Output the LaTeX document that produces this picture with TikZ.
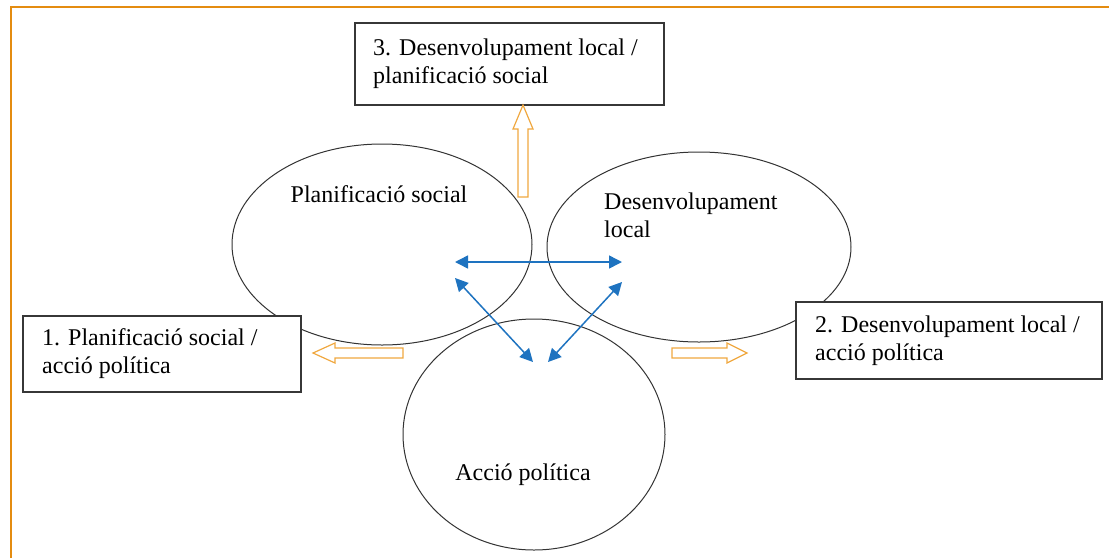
\documentclass[tikz,border=0pt]{standalone}
\usepackage{fontspec}
\setmainfont{Liberation Serif}
\usetikzlibrary{arrows.meta,shapes.geometric}
\definecolor{frameor}{RGB}{228,140,16}
\definecolor{arrowor}{RGB}{240,168,64}
\definecolor{blu}{RGB}{30,115,192}
\definecolor{edge}{RGB}{55,55,55}
\begin{document}
\begin{tikzpicture}[x=1pt,y=-1pt,
  txt/.style={font=\fontsize{24}{28}\selectfont, inner sep=0pt, align=left},
  boxnode/.style={draw=edge, fill=white, line width=1.5pt, inner sep=0pt, anchor=north west},
  oval/.style={draw=black!80, line width=1pt, ellipse, inner sep=0pt},
  link/.style={blu, line width=1.5pt, {Triangle[length=13pt,width=13pt]}-{Triangle[length=13pt,width=13pt]}},
  blockarrow/.style={draw=arrowor, fill=white, line width=1.2pt, line join=miter}]
\useasboundingbox (0,0) rectangle (1109,558);
\draw[frameor, line width=2.5pt] (11,558) -- (11,7) -- (1109,7);

% ellipses
\node[oval, minimum width=300pt, minimum height=201pt] (ps) at (382,244.5) {};
\node[oval, minimum width=304pt, minimum height=190pt] (dl) at (699,247) {};
\node[oval, minimum width=262pt, minimum height=231pt] (ap) at (534,434.5) {};
\node[txt] (psl) at (379,194) {Planificació social};
\node[txt, anchor=west] (dll) at (604,215) {Desenvolupament\\local};
\node[txt] (apl) at (523,475) {Acció política};

% boxes
\node[boxnode, minimum width=278pt, minimum height=76pt] (b1) at (22,315) {};
\node[txt, anchor=west] (t1) at ([xshift=20pt]b1.west) {1. Planificació social /\\acció política};
\node[boxnode, minimum width=306pt, minimum height=77pt] (b2) at (795,301) {};
\node[txt, anchor=west] (t2) at ([xshift=20pt]b2.west) {2. Desenvolupament local /\\acció política};
\node[boxnode, minimum width=309pt, minimum height=82pt] (b3) at (354,22) {};
\node[txt, anchor=west] (t3) at ([xshift=19pt]b3.west) {3. Desenvolupament local /\\planificació social};

% blue arrows
\coordinate (h1) at (455,262);
\coordinate (h2) at (622,262);
\coordinate (d1) at (455,278);
\coordinate (d2) at (533,362);
\coordinate (e1) at (622,282);
\coordinate (e2) at (548,362);
\draw[link] (h1) -- (h2);
\draw[link] (d1) -- (d2);
\draw[link] (e1) -- (e2);

% block arrows
\draw[blockarrow] (518,197) -- (518,129) -- (513,129) -- (523,105) -- (533,129) -- (528,129) -- (528,197) -- cycle;
\draw[blockarrow] (403,348) -- (335,348) -- (335,343) -- (313,353) -- (335,363) -- (335,358) -- (403,358) -- cycle;
\draw[blockarrow] (672,348) -- (727,348) -- (727,343) -- (747,353) -- (727,363) -- (727,358) -- (672,358) -- cycle;
\end{tikzpicture}
\end{document}
